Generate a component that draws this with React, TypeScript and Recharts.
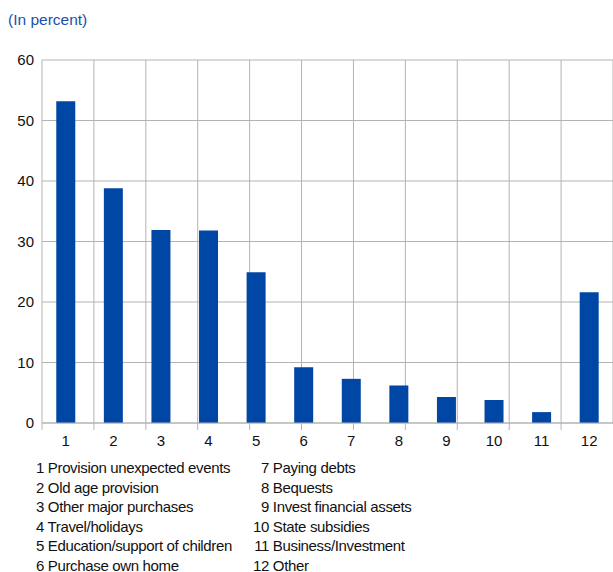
import React from "react";
import { BarChart, Bar, XAxis, YAxis, CartesianGrid } from "recharts";

const categories: string[] = ["1", "2", "3", "4", "5", "6", "7", "8", "9", "10", "11", "12"];
const shares: number[] = [53.2, 38.8, 31.9, 31.8, 24.9, 9.2, 7.3, 6.2, 4.3, 3.8, 1.8, 21.6];
const purposes: string[] = [
  "Provision unexpected events",
  "Old age provision",
  "Other major purchases",
  "Travel/holidays",
  "Education/support of children",
  "Purchase own home",
  "Paying debts",
  "Bequests",
  "Invest financial assets",
  "State subsidies",
  "Business/Investment",
  "Other",
];
const yTicks: number[] = [0, 10, 20, 30, 40, 50, 60];
const boundaryTicks: number[] = [0, 1, 2, 3, 4, 5, 6, 7, 8, 9, 10, 11, 12];

const data = categories.map((c, i) => ({ cat: c, value: shares[i] }));

const FONT = "'Liberation Sans', Arial, sans-serif";
const GRID = "#b3b3b3";
const BLUE = "#0046a5";

const NoLabel = () => <g />;

const App: React.FC = () => {
  const left = purposes.slice(0, 6);
  const right = purposes.slice(6);
  return (
    <div style={styles.page}>
      <div style={styles.title}>(In percent)</div>
      <div style={{ position: "absolute", left: 0, top: 0 }}>
        <BarChart
          width={613}
          height={452}
          data={data}
          margin={{ top: 60, right: 0, bottom: 0, left: 0 }}
          barCategoryGap="30%"
        >
          <CartesianGrid xAxisId="a" stroke={GRID} strokeWidth={1} />
          <XAxis
            xAxisId="a"
            type="number"
            domain={[0, 12]}
            ticks={boundaryTicks}
            allowDataOverflow
            height={8}
            tick={NoLabel}
            tickSize={7}
            tickLine={{ stroke: GRID }}
            axisLine={{ stroke: GRID }}
          />
          <XAxis
            xAxisId="z"
            dataKey="cat"
            height={21}
            tickLine={false}
            axisLine={false}
            tickSize={0}
            tickMargin={4}
            interval={0}
            tick={{ fill: "#111", fontSize: 15, fontFamily: FONT }}
          />
          <YAxis
            domain={[0, 60]}
            ticks={yTicks}
            width={42}
            axisLine={false}
            tickLine={false}
            tickSize={0}
            tickMargin={8}
            tick={{ fill: "#111", fontSize: 15, fontFamily: FONT }}
          />
          <Bar xAxisId="z" dataKey="value" fill={BLUE} isAnimationActive={false} />
        </BarChart>
      </div>
      <div style={styles.legend}>
        <div style={{ position: "absolute", left: 36, top: 0 }}>
          {left.map((p, i) => (
            <div key={p} style={styles.row}>
              {categories[i]} {p}
            </div>
          ))}
        </div>
        <div style={{ position: "absolute", left: 240, top: 0 }}>
          {right.map((p, i) => (
            <div key={p} style={styles.row}>
              <span style={{ display: "inline-block", width: 29, textAlign: "right" }}>
                {categories[i + 6]}
              </span>{" "}
              {p}
            </div>
          ))}
        </div>
      </div>
    </div>
  );
};

const styles: { [key: string]: React.CSSProperties } = {
  page: {
    position: "absolute",
    left: 0,
    top: 0,
    width: 613,
    height: 572,
    background: "#fff",
    fontFamily: FONT,
    overflow: "hidden",
  },
  title: {
    position: "absolute",
    left: 8,
    top: 11,
    fontSize: 15.5,
    color: "#2350a6",
  },
  legend: {
    position: "absolute",
    left: 0,
    top: 458,
    width: 613,
    fontSize: 15,
    letterSpacing: -0.35,
    color: "#111",
  },
  row: {
    height: 19.5,
    lineHeight: "19.5px",
    whiteSpace: "nowrap",
  },
};

export default App;
